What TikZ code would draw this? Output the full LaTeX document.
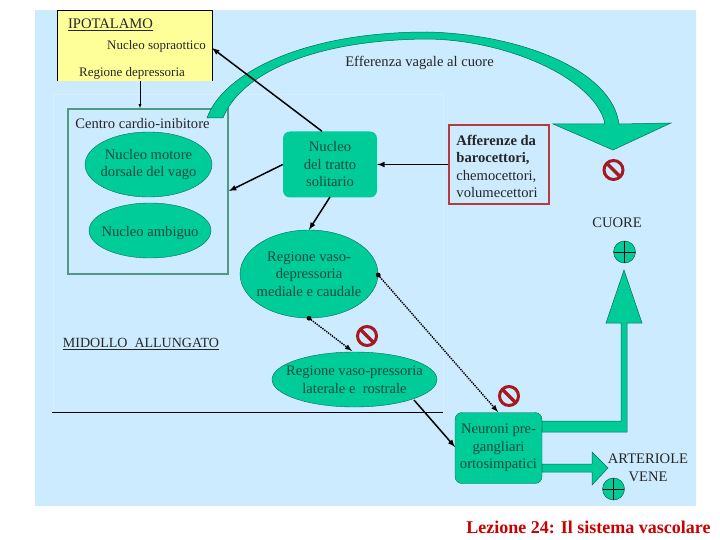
\documentclass[tikz,border=0pt]{standalone}
\usepackage{fontspec}
\setmainfont{Liberation Serif}
\usetikzlibrary{shapes.geometric}

\definecolor{panelblue}{HTML}{CCEBFF}
\definecolor{paleline}{HTML}{D6EEFF}
\definecolor{nucleogreen}{HTML}{00CC99}
\definecolor{boxgreen}{HTML}{4D9A85}
\definecolor{edgegreen}{HTML}{0B6B55}
\definecolor{textgreen}{HTML}{0F4A3C}
\definecolor{hypoyellow}{HTML}{FFFF99}
\definecolor{stopred}{HTML}{A81820}
\definecolor{titlered}{HTML}{CC0000}

\tikzset{
    label text/.style={font=\fontsize{14.6}{17}\selectfont, text=black!85, inner sep=0pt, align=center},
    nucleus/.style={ellipse, draw=edgegreen, fill=nucleogreen, text=textgreen, inner sep=-10pt, align=center, font=\fontsize{14.6}{17.5}\selectfont, execute at begin node={\rule{0pt}{14.5pt}}},
    nucleus box/.style={rectangle, rounded corners=7pt, fill=nucleogreen, text=textgreen, inner sep=0pt, align=center, font=\fontsize{14.6}{17.5}\selectfont, execute at begin node={\rule{0pt}{14.5pt}}},
    link/.style={line width=1.5pt, black, -latex},
    dotlink/.style={line width=1.4pt, densely dotted, black, -latex},
    flow/.style={fill=nucleogreen, draw=edgegreen, line width=0.5pt},
    stopsign/.style={circle, draw=stopred, line width=3pt, minimum size=19pt, inner sep=0pt,
        path picture={\draw[stopred, line width=3.2pt] (path picture bounding box.north west) -- (path picture bounding box.south east);}},
    plussign/.style={circle, draw=edgegreen!70!black, fill=nucleogreen, minimum size=22pt, inner sep=0pt,
        path picture={\draw[black, line width=0.6pt] (path picture bounding box.north) -- (path picture bounding box.south) (path picture bounding box.west) -- (path picture bounding box.east);}}
}

\begin{document}
\begin{tikzpicture}[x=1pt, y=-1pt]
    \useasboundingbox (0,0) rectangle (720,540);

    % background panel
    \fill[panelblue] (35,10) rectangle (696,506);
    \draw[paleline] (53,412) -- (53,94) -- (443,94) -- (443,412);

    % hypothalamus
    \fill[hypoyellow] (57,10) rectangle (212,81);
    \draw[black] (57,81) -- (57,10) -- (212,10) -- (212,81);
    \node[label text] (ipotalamo) at (110.5,25) {\underline{IPOTALAMO}};
    \node[label text, font=\fontsize{13}{16}\selectfont] (sopraottico) at (156.5,46) {Nucleo sopraottico};
    \node[label text, font=\fontsize{13}{16}\selectfont] (depressoria) at (132,73) {Regione depressoria};

    % cardio-inhibitory centre
    \node[rectangle, draw=boxgreen, line width=1.6pt, minimum width=160pt, minimum height=165pt, inner sep=0pt] (centro) at (148,191.5) {};
    \node[label text] (centrolabel) at (142.5,124) {Centro cardio-inibitore};
    \node[nucleus, minimum width=127pt, minimum height=65pt] (motore) at (148.5,164.5) {Nucleo motore\\dorsale del vago};
    \node[nucleus, minimum width=122pt, minimum height=55pt] (ambiguo) at (150,230.5) {Nucleo ambiguo};

    % medulla
    \node[nucleus box, minimum width=94pt, minimum height=66pt] (tratto) at (330,164.5) {Nucleo\\del tratto\\solitario};
    \node[nucleus, minimum width=138pt, minimum height=88pt] (vasodep) at (309,274) {Regione vaso-\\depressoria\\mediale e caudale};
    \node[nucleus, minimum width=165pt, minimum height=55pt, execute at begin node={}] (vasopress) at (354.5,379.5) {Regione vaso-pressoria\\laterale e\ \ rostrale};
    \node[label text, font=\fontsize{14}{17}\selectfont] (midollo) at (141,344) {\underline{MIDOLLO\ \ ALLUNGATO}};
    \draw[black] (52,412) -- (443,412);

    % afferents
    \node[rectangle, draw=stopred!85!white, line width=1.1pt, minimum width=100pt, minimum height=79pt, inner sep=0pt] (afferenze) at (499,164.5) {};
    \node[label text, align=left, font=\fontsize{14.6}{17.5}\selectfont] (afferenzetext) at (497,166.5) {\textbf{Afferenze da}\\\textbf{barocettori,}\\chemocettori,\\volumecettori};

    % sympathetic neurons
    \node[nucleus box, draw=edgegreen, line width=0.4pt, minimum width=87pt, minimum height=71pt, execute at begin node={\rule{0pt}{18pt}}] (neuroni) at (498.5,448) {Neuroni pre-\\gangliari\\ortosimpatici};

    % vagal efferent band
    \path[flow] (207,118) .. controls (222,75) and (300,32) .. (427,32)
        .. controls (520,34) and (612,70) .. (619,124)
        -- (671,123) -- (613,150) -- (553,124) -- (605,124)
        .. controls (596,80) and (510,40) .. (427,39)
        .. controls (310,40) and (240,75) .. (223,118) -- cycle;
    \node[label text] (efferenza) at (419.5,63) {Efferenza vagale al cuore};

    % sympathetic flow to the heart and vessels
    \path[flow] (542,421) -- (621,421) -- (621,323) -- (606,323) -- (624,270) -- (642,323) -- (627,323) -- (627,432) -- (542,432) -- cycle;
    \path[flow] (542,464) -- (592,464) -- (592,452) -- (608,468) -- (592,485) -- (592,472) -- (542,472) -- cycle;

    % targets
    \node[label text] (cuore) at (617,223) {CUORE};
    \node[label text] (arteriole) at (648,459) {ARTERIOLE};
    \node[label text] (vene) at (648,477) {VENE};
    \node[plussign] (pluscuore) at (624.5,252) {};
    \node[plussign] (plusvasi) at (613.5,489) {};

    % inhibition marks
    \node[stopsign] (stopcuore) at (613.5,170) {};
    \node[stopsign] (stoppress) at (367,336) {};
    \node[stopsign] (stopneuroni) at (509,396) {};

    % connections
    \draw[thin, black, -latex] (140,81) -- (centro.north -| 140,0);
    \draw[link] (tratto.north) ++(-8,0) coordinate (trattotop) -- (212,48);
    \draw[link] (afferenze.west) -- (tratto.east);
    \draw[link] (tratto.west) -- (229,191);
    \coordinate (trattobase) at (330,197);
    \draw[link] (trattobase) -- (vasodep.north);
    \coordinate (neuroniwest) at (455,447);
    \coordinate (pressbase) at (414,400);
    \draw[link] (pressbase) -- (neuroniwest);

    % dotted inhibitory connections
    \fill[black] (vasodep.south) circle (2.4pt);
    \fill[black] (vasodep.east |- 0,275) circle (2.4pt);
    \coordinate (neuronitop) at (498,412);
    \coordinate (presstop) at (352,351);
    \draw[dotlink] (vasodep.south) -- (presstop);
    \draw[dotlink] (vasodep.east |- 0,275) -- (neuronitop);

    % footer
    \node[font=\bfseries\fontsize{18}{20}\selectfont, text=titlered, inner sep=0pt] (titolo) at (588.5,527) {Lezione 24: Il sistema vascolare};
\end{tikzpicture}
\end{document}
